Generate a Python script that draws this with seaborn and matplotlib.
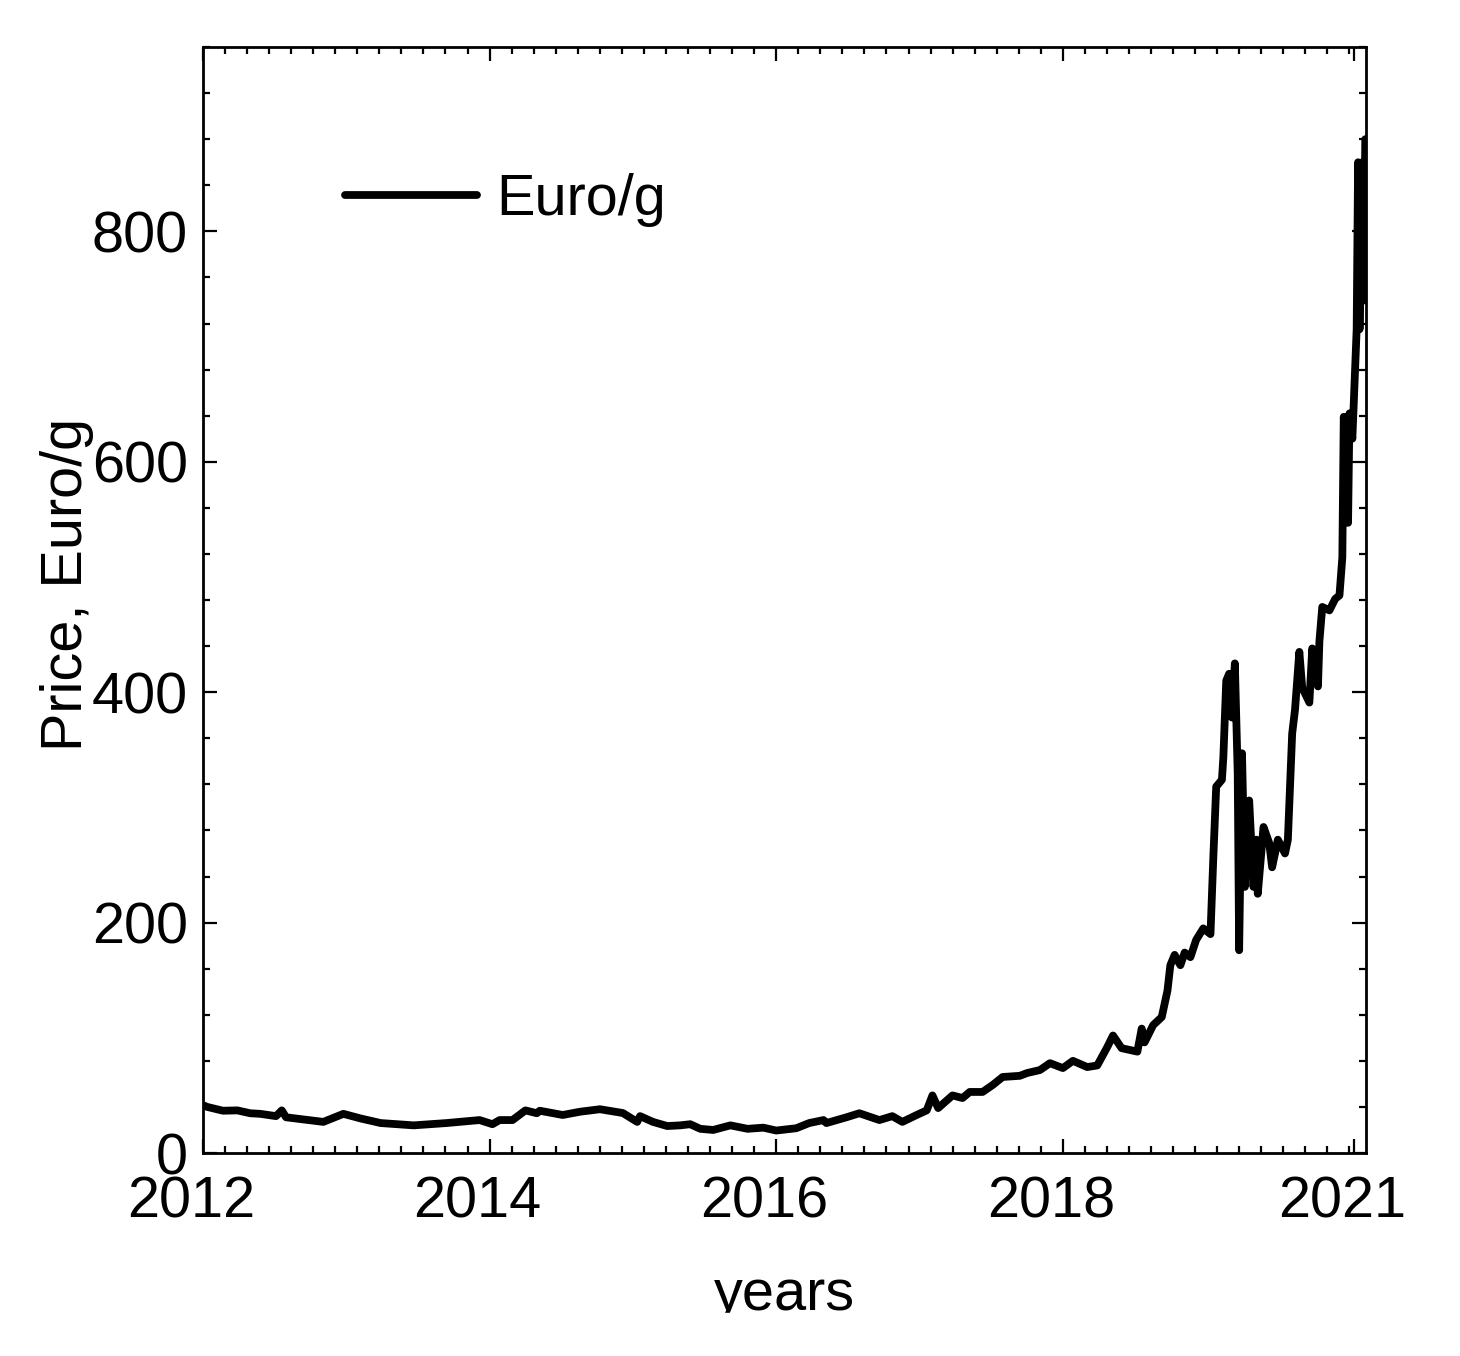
import numpy as np
import pandas as pd
import seaborn as sns
import matplotlib
matplotlib.use('Agg')
import matplotlib.pyplot as plt
import matplotlib.transforms as mtransforms
from matplotlib.ticker import MultipleLocator, FixedLocator

# Price series (x in plotted years, y in Euro/g)
years = [2012.00, 2012.03, 2012.14, 2012.24, 2012.33, 2012.40, 2012.51, 2012.55, 2012.58,
         2012.84, 2012.98, 2013.10, 2013.24, 2013.47, 2013.70, 2013.93, 2014.02, 2014.07,
         2014.16, 2014.25, 2014.33, 2014.35, 2014.51, 2014.63, 2014.77, 2014.93, 2015.03,
         2015.05, 2015.14, 2015.24, 2015.33, 2015.40, 2015.47, 2015.56, 2015.68, 2015.80,
         2015.91, 2016.00, 2016.14, 2016.23, 2016.33, 2016.35, 2016.49, 2016.58, 2016.72,
         2016.81, 2016.88, 2016.98, 2017.05, 2017.09, 2017.13, 2017.23, 2017.30, 2017.35,
         2017.44, 2017.51, 2017.58, 2017.70, 2017.75, 2017.84, 2017.91, 2018.00, 2018.07,
         2018.17, 2018.24, 2018.31, 2018.35, 2018.41, 2018.52, 2018.55, 2018.57, 2018.63,
         2018.69, 2018.73, 2018.75, 2018.78, 2018.82, 2018.85, 2018.89, 2018.93, 2018.98,
         2019.03, 2019.05, 2019.07, 2019.11, 2019.12, 2019.14, 2019.16, 2019.18, 2019.20,
         2019.22, 2019.23, 2019.25, 2019.27, 2019.30, 2019.33, 2019.35, 2019.36, 2019.40,
         2019.44, 2019.46, 2019.50, 2019.55, 2019.57, 2019.60, 2019.62, 2019.65, 2019.67,
         2019.72, 2019.74, 2019.78, 2019.79, 2019.81, 2019.86, 2019.90, 2019.93, 2019.95,
         2019.96, 2019.99, 2020.00, 2020.02, 2020.04, 2020.05, 2020.06, 2020.07, 2020.09,
         2020.10, 2020.11]
price = [41.6, 40, 36.7, 37, 34.5, 34, 32, 37, 31,
         27, 34, 30, 26, 24, 26, 28.6, 25, 28.6,
         28.6, 37, 34.5, 36.7, 33, 35.8, 38, 34.7, 27,
         32, 27, 23.4, 24, 25, 21, 20, 24, 21,
         22, 19.5, 21.5, 26, 28.6, 26, 31, 34.5, 28.6,
         32, 27, 33, 37, 50, 39, 50, 47.7, 53,
         53, 59, 66, 67, 69.4, 72, 78, 73.7, 80,
         74.6, 76, 92, 102, 91, 88, 108, 96, 111,
         118, 141, 163, 172, 163, 174, 170, 185, 195,
         190, 257, 318, 324, 344, 410, 416, 378, 425,
         330, 176, 347, 231, 306, 231, 272, 225, 283,
         269, 248, 272, 260, 272, 364, 385, 435, 404,
         391, 438, 405, 444, 474, 471, 481, 484, 517,
         639, 547, 642, 620, 682, 715, 860, 715, 860,
         740, 880]

tick_pos = [2012, 2014, 2016, 2018, 2020.03]
tick_labels = ['2012', '2014', '2016', '2018', '2021']

df = pd.DataFrame({'year': years, 'price': price})

sns.set_style('ticks')
plt.rcParams['font.family'] = ['Liberation Sans', 'DejaVu Sans']
plt.rcParams['text.color'] = 'black'
plt.rcParams['axes.labelcolor'] = 'black'
plt.rcParams['xtick.color'] = 'black'
plt.rcParams['ytick.color'] = 'black'

fig = plt.figure(figsize=(14.6, 13.56), dpi=100)
ax = fig.add_axes([0.139, 0.1497, 0.7966, 0.8156])

sns.lineplot(data=df, x='year', y='price', ax=ax, color='black', linewidth=5.6,
             label='Euro/g', estimator=None, sort=False,
             solid_capstyle='round', solid_joinstyle='round')

ax.set_xlim(2012, 2020.115)
ax.set_ylim(0, 960)

ax.xaxis.set_major_locator(FixedLocator(tick_pos))
ax.set_xticklabels(tick_labels)
ax.xaxis.set_minor_locator(MultipleLocator(2 / 13))
ax.yaxis.set_major_locator(MultipleLocator(200))
ax.yaxis.set_minor_locator(MultipleLocator(40))

ax.tick_params(which='both', direction='in', top=True, right=True, width=1.6,
               labelsize=41.5, colors='black')
ax.tick_params(which='major', length=10)
ax.tick_params(which='minor', length=5)
ax.tick_params(axis='x', pad=16)
ax.tick_params(axis='y', pad=11)

for s in ax.spines.values():
    s.set_linewidth(2)
    s.set_color('black')

# shift x tick labels slightly left like the original
offset = mtransforms.ScaledTranslation(-12 / 100, 0, fig.dpi_scale_trans)
for lab in ax.get_xticklabels():
    lab.set_transform(lab.get_transform() + offset)

ax.set_xlabel('years', fontsize=41.5, color='black')
ax.xaxis.set_label_coords(0.5, -0.104)
ax.set_ylabel('Price, Euro/g', fontsize=41.5, color='black')
ax.yaxis.set_label_coords(-0.0937, 0.514)

leg = ax.legend(loc='center left', bbox_to_anchor=(0.122, 0.862), frameon=False, fontsize=41.5,
                handlelength=2.3, handletextpad=0.32, borderpad=0, borderaxespad=0)
for t in leg.get_texts():
    t.set_color('black')

# the original image is cut off just under the x label
fig.add_artist(plt.Rectangle((0, 0), 1, 0.0317, transform=fig.transFigure,
                             color='white', zorder=10))

fig.savefig('out.png', dpi=100)
